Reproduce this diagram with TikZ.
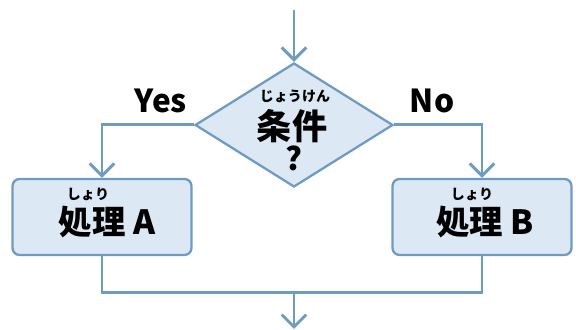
\documentclass[tikz,border=0pt]{standalone}
\usepackage{fontspec}
\setmainfont{Noto Sans CJK JP}
\usetikzlibrary{shapes.geometric,arrows.meta}
\definecolor{flowline}{HTML}{6F9BC2}
\definecolor{flowfill}{HTML}{DCE8F4}

\begin{document}
\begin{tikzpicture}[x=0.02cm,y=-0.02cm,
		line width=1.6pt,
		flow/.style={draw=flowline,line width=1.7pt},
		arr/.style={flow,-{Straight Barb[length=7pt,width=14pt,line width=1.7pt]}},
		decision/.style={diamond,draw=flowline,fill=flowfill,line width=1.3pt,inner sep=0pt,minimum width=3.96cm,minimum height=2.48cm},
		process/.style={rectangle,rounded corners=4pt,draw=flowline,fill=flowfill,line width=1.3pt,minimum width=3.58cm,minimum height=1.52cm},
		ruby/.style={font=\bfseries\fontsize{8}{9}\selectfont},
		label/.style={font=\bfseries\fontsize{18}{20}\selectfont}]
			\useasboundingbox (0,0) rectangle (576,330);
			\draw (294,125) node [decision] (cond) {};
			\draw (102,217) node [process] (procA) {};
			\draw (482,217) node [process] (procB) {};
			\draw (295,96) node [ruby] (condruby) {じょうけん};
			\draw (292,126) node [font=\bfseries\fontsize{20}{22}\selectfont] (condtext) {条件};
			\draw (294,158) node [font=\bfseries\fontsize{18}{20}\selectfont] (condq) {?};
			\draw (88,194) node [ruby] (procAruby) {しょり};
			\draw (107,222) node [font=\bfseries\fontsize{19}{21}\selectfont] (procAtext) {処理 A};
			\draw (472,194) node [ruby] (procBruby) {しょり};
			\draw (485,222) node [font=\bfseries\fontsize{19}{21}\selectfont] (procBtext) {処理 B};
			\draw (161,101) node [label] (yes) {Yes};
			\draw (432,101) node [label] (no) {No};
			\coordinate (in) at (294,10);
			\coordinate (join) at (294,293);
			\coordinate (out) at (294,329);
			\draw [arr] (in) -- (cond.north);
			\draw [arr] (cond.west) -| (procA.north);
			\draw [arr] (cond.east) -| (procB.north);
			\draw [flow] (procA.south) |- (join) -| (procB.south);
			\draw [arr] (join) -- (out);
		\end{tikzpicture}
\end{document}
